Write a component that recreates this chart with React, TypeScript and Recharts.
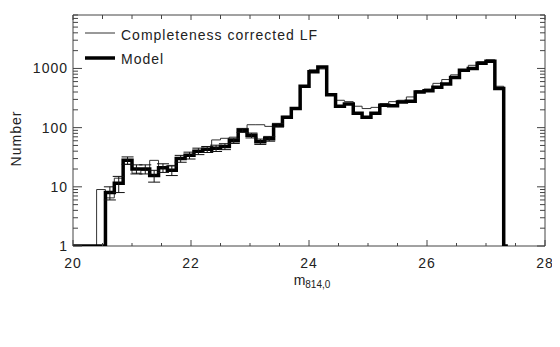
import React from 'react';
import {
  ComposedChart, Line, Scatter, ErrorBar, XAxis, YAxis, ReferenceArea, Legend,
} from 'recharts';

// Bin lower edges (m814,0), bin width 0.15
const binEdges = [
  20.4, 20.55, 20.7, 20.85, 21.0, 21.15, 21.3, 21.45, 21.6, 21.75,
  21.9, 22.05, 22.2, 22.35, 22.5, 22.65, 22.8, 22.95, 23.1, 23.25,
  23.4, 23.55, 23.7, 23.85, 24.0, 24.15, 24.3, 24.45, 24.6, 24.75,
  24.9, 25.05, 25.2, 25.35, 25.5, 25.65, 25.8, 25.95, 26.1, 26.25,
  26.4, 26.55, 26.7, 26.85, 27.0, 27.15,
];
const rangeStart = 20;
const rangeEnd = 27.3;
const modelTailEnd = 27.37;

// Completeness corrected LF
const lfValues = [
  9, 6.5, 14, 24, 17, 19, 28, 22, 23, 31,
  35, 41, 44, 62, 66, 69, 90, 112, 112, 105,
  112, 155, 215, 510, 950, 980, 360, 290, 275, 230,
  210, 220, 255, 275, 290, 330, 420, 450, 560, 650,
  780, 960, 1130, 1300, 1400, 500,
];

// Model
const modelValues = [
  1, 8, 11.5, 28, 20, 20, 15.5, 21, 19, 30,
  34, 40, 43, 45, 48, 60, 90, 74, 58, 65,
  110, 150, 210, 500, 880, 1060, 360, 230, 250, 175,
  150, 175, 240, 235, 270, 280, 400, 420, 480, 545,
  700, 930, 1000, 1220, 1320, 460,
];

// Error bars (bin centres)
const errCenters = [
  20.625, 20.775, 20.925, 21.075, 21.225, 21.375, 21.525, 21.675, 21.825, 21.975,
  22.125, 22.275, 22.425, 22.575, 22.725, 22.875, 23.025, 23.175, 23.325, 23.475,
];
const errValues = [
  8, 11.5, 28, 20, 20, 15.5, 21, 19, 30, 34,
  40, 43, 45, 48, 60, 90, 74, 58, 65, 110,
];
const errSizes = [
  2, 3.5, 4, 3.5, 3.5, 3.5, 3.5, 3.5, 4, 4.5,
  5, 5, 5.5, 5.5, 6, 7, 7, 6, 6, 8,
];

const xTicks = [20, 20.5, 21, 21.5, 22, 22.5, 23, 23.5, 24, 24.5, 25, 25.5, 26, 26.5, 27, 27.5, 28];
const xLabels = [20, 22, 24, 26, 28];
const yTicks = [
  1, 2, 3, 4, 5, 6, 7, 8, 9,
  10, 20, 30, 40, 50, 60, 70, 80, 90,
  100, 200, 300, 400, 500, 600, 700, 800, 900,
  1000, 2000, 3000, 4000, 5000, 6000, 7000, 8000,
];
const yLabels = [1, 10, 100, 1000];

const seriesNames = ['Completeness corrected LF', 'Model'];

const W = 552;
const H = 339;
const MARGIN = { top: 7, right: 15, bottom: 71, left: 8 };
const Y_AXIS_W = 57;
const X_AXIS_H = 30;
const PLOT_W = W - MARGIN.left - MARGIN.right - Y_AXIS_W;
const PLOT_H = H - MARGIN.top - MARGIN.bottom - X_AXIS_H;

const FONT = '"Liberation Sans", Arial, sans-serif';
const AXIS_COLOR = '#444';
const TEXT_COLOR = '#222';

const lfData = [
  { x: rangeStart, y: 1 },
  ...binEdges.map((e, i) => ({ x: e, y: lfValues[i] })),
  { x: rangeEnd, y: 1 },
];
const modelData = [
  { x: rangeStart, y: 1 },
  ...binEdges.map((e, i) => ({ x: e, y: modelValues[i] })),
  { x: rangeEnd, y: 1 },
  { x: modelTailEnd, y: 1 },
];
const errData = errCenters.map((x, i) => ({ x, y: errValues[i], e: errSizes[i] }));

const XTick = (props: any) => {
  const { x, y, payload } = props;
  const v = payload.value;
  const major = xLabels.includes(v);
  const len = major ? 6 : 3;
  return (
    <g>
      <line x1={x} y1={y} x2={x} y2={y - len} stroke={AXIS_COLOR} strokeWidth={1} />
      <line x1={x} y1={y - PLOT_H} x2={x} y2={y - PLOT_H + (major ? 5 : 4)} stroke={AXIS_COLOR} strokeWidth={1} />
      {major && (
        <text x={x} y={y + 22} textAnchor="middle" fontFamily={FONT} fontSize={14}
          letterSpacing={1} fill={TEXT_COLOR}>{v}</text>
      )}
    </g>
  );
};

const YTick = (props: any) => {
  const { x, y, payload } = props;
  const v = payload.value;
  const major = yLabels.includes(v);
  const len = major ? 9 : 5;
  return (
    <g>
      <line x1={x} y1={y} x2={x + len} y2={y} stroke={AXIS_COLOR} strokeWidth={1} />
      <line x1={x + PLOT_W} y1={y} x2={x + PLOT_W - (major ? 8 : 5)} y2={y} stroke={AXIS_COLOR} strokeWidth={1} />
      {major && (
        <text x={x - 5} y={y + 5} textAnchor="end" fontFamily={FONT} fontSize={14}
          letterSpacing={1} fill={TEXT_COLOR}>{v}</text>
      )}
    </g>
  );
};

const LegendBox = () => (
  <svg width={260} height={50} style={{ display: 'block', overflow: 'visible' }}>
    <line x1={2} y1={10} x2={32} y2={10} stroke="#333" strokeWidth={1} />
    <text x={38} y={16.5} fontFamily={FONT} fontSize={14} letterSpacing={1} fill={TEXT_COLOR}>{seriesNames[0]}</text>
    <line x1={2} y1={35} x2={32} y2={35} stroke="#000" strokeWidth={3.5} />
    <text x={38} y={41} fontFamily={FONT} fontSize={14} letterSpacing={1} fill={TEXT_COLOR}>{seriesNames[1]}</text>
  </svg>
);

const XLabel = (props: any) => {
  const vb = props.viewBox || { x: 0, y: 0, width: 0, height: 0 };
  const cx = vb.x + vb.width / 2 + 3;
  return (
    <text x={cx} y={vb.y + 39} textAnchor="middle" fontFamily={FONT} fill={TEXT_COLOR}>
      <tspan fontSize={14}>m</tspan>
      <tspan fontSize={10} dy={3}>814,0</tspan>
    </text>
  );
};

const YLabel = (props: any) => {
  const vb = props.viewBox || { x: 0, y: 0, width: 0, height: 0 };
  const cx = 13;
  const cy = vb.y + vb.height / 2 + 8;
  return (
    <text x={cx} y={cy} transform={`rotate(-90, ${cx}, ${cy})`} textAnchor="middle"
      fontFamily={FONT} fontSize={14} letterSpacing={1} fill={TEXT_COLOR}>Number</text>
  );
};

export default function App() {
  return (
    <div style={{ width: W, height: H }}>
      <ComposedChart width={W} height={H} margin={MARGIN}>
        <XAxis
          dataKey="x"
          type="number"
          domain={[20, 28]}
          ticks={xTicks}
          interval={0}
          tick={<XTick />}
          tickLine={false}
          axisLine={false}
          tickSize={0}
          tickMargin={0}
          height={X_AXIS_H}
          label={<XLabel />}
          allowDataOverflow
        />
        <YAxis
          dataKey="y"
          type="number"
          scale="log"
          domain={[1, 8000]}
          ticks={yTicks}
          interval={0}
          tick={<YTick />}
          tickLine={false}
          axisLine={false}
          tickSize={0}
          tickMargin={0}
          width={Y_AXIS_W}
          label={<YLabel />}
          allowDataOverflow
        />
        <ReferenceArea x1={20} x2={28} y1={1} y2={8000} fill="none" stroke={AXIS_COLOR}
          strokeWidth={1} ifOverflow="visible" />
        <Legend
          layout="vertical"
          align="center"
          verticalAlign="middle"
          content={<LegendBox />}
          wrapperStyle={{ position: 'absolute', top: 15, left: 75, width: 260 }}
        />
        <Line data={lfData} dataKey="y" name={seriesNames[0]} type="stepAfter" stroke="#333"
          strokeWidth={1} dot={false} isAnimationActive={false} />
        <Line data={modelData} dataKey="y" name={seriesNames[1]} type="stepAfter" stroke="#000"
          strokeWidth={3.5} dot={false} isAnimationActive={false} />
        <Scatter data={errData} dataKey="y" shape={() => <g />} isAnimationActive={false}>
          <ErrorBar dataKey="e" direction="y" width={6} stroke="#111" strokeWidth={1} />
        </Scatter>
      </ComposedChart>
    </div>
  );
}
